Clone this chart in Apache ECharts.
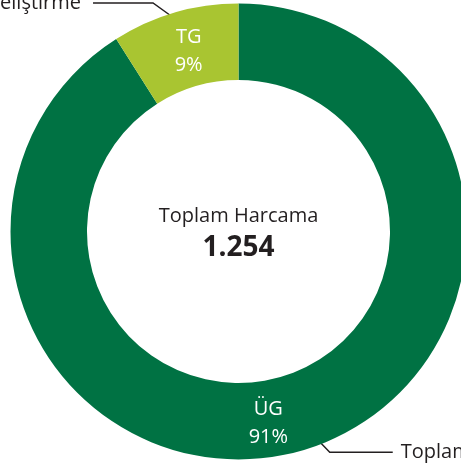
<!DOCTYPE html>
<html>
<head>
<meta charset="utf-8">
<script src="https://cdn.jsdelivr.net/npm/echarts@6/dist/echarts.min.js"></script>
<style>
html, body { margin: 0; padding: 0; background: #fff; }
#chart { width: 461px; height: 465px; }
</style>
</head>
<body>
<div id="chart"></div>
<script>
// dilim verileri (saat yönünde, tepeden başlayarak)
const kisaAdlar = ['ÜG', 'TG']
const uzunAdlar = ['Toplam ÜG Harcaması', 'Teknoloji Geliştirme']
const degerler = [1141, 113]
const renkler = ['#007243', '#a9c531']
const merkezBaslik = 'Toplam Harcama'

const yazi = '"Open Sans", "Noto Sans", sans-serif'
const koyu = '#231f20'
const CX = 238.5, CY = 231.5

const toplam = degerler.reduce((a, b) => a + b, 0)
const toplamYazi = String(toplam).replace(/\B(?=(\d{3})+(?!\d))/g, '.')

// etiket ince ayarları (iç etiket kaydırma, dış etiket çizgi boyları)
const icKaydirma = [[-24, 7], [4, 5]]
const cizgiBoy = [[10, 90], [18, 79]]
const cizgiMesafe = [8, 12]
// kırılma noktasını etikete doğru kaydır (çapraz çizgi için)
const kirilmaKayma = [27, -19]
const baslangicKayma = [[10, -11], [0, 0]]

const chart = echarts.init(document.getElementById('chart'))

chart.setOption({
  animation: false,
  graphic: [
    {
      type: 'text', x: CX, y: CY - 15,
      style: { text: merkezBaslik, fill: koyu, font: '20px ' + yazi, align: 'center', verticalAlign: 'middle' }
    },
    {
      type: 'text', x: CX, y: CY + 17,
      style: { text: toplamYazi, fill: koyu, font: 'bold 28px ' + yazi, align: 'center', verticalAlign: 'middle' }
    }
  ],
  series: [
    {
      // halka
      type: 'pie',
      center: [CX, CY],
      radius: [151.5, 228],
      startAngle: 90,
      silent: true,
      avoidLabelOverlap: false,
      label: {
        show: true,
        position: 'inside',
        color: '#fff',
        fontFamily: yazi,
        fontSize: 20,
        lineHeight: 28,
        formatter: p => kisaAdlar[p.dataIndex] + '\n' + Math.round(p.percent) + '%'
      },
      labelLine: { show: false },
      data: degerler.map((v, i) => ({
        value: v,
        name: kisaAdlar[i],
        itemStyle: { color: renkler[i] },
        label: { offset: icKaydirma[i] }
      }))
    },
    {
      // dış etiketler için görünmez dilimler
      type: 'pie',
      center: [CX, CY],
      radius: [0, 220],
      startAngle: 90,
      silent: true,
      avoidLabelOverlap: false,
      itemStyle: { color: 'rgba(0,0,0,0)' },
      label: {
        show: true,
        position: 'outside',
        alignTo: 'none',
        color: koyu,
        fontFamily: yazi,
        fontSize: 20,
        width: 400,
        overflow: 'none',
        formatter: p => uzunAdlar[p.dataIndex]
      },
      labelLine: {
        show: true,
        lineStyle: { color: koyu, width: 1.5 }
      },
      labelLayout: p => {
        const pts = p.labelLinePoints
        if (!pts) return {}
        const i = p.dataIndex
        return {
          labelLinePoints: [
            [pts[0][0] + baslangicKayma[i][0], pts[0][1] + baslangicKayma[i][1]],
            [pts[1][0] + kirilmaKayma[i], pts[1][1]],
            pts[2]
          ]
        }
      },
      data: degerler.map((v, i) => ({
        value: v,
        name: uzunAdlar[i],
        label: { distanceToLabelLine: cizgiMesafe[i] },
        labelLine: { length: cizgiBoy[i][0], length2: cizgiBoy[i][1] }
      }))
    }
  ]
})
</script>
</body>
</html>
